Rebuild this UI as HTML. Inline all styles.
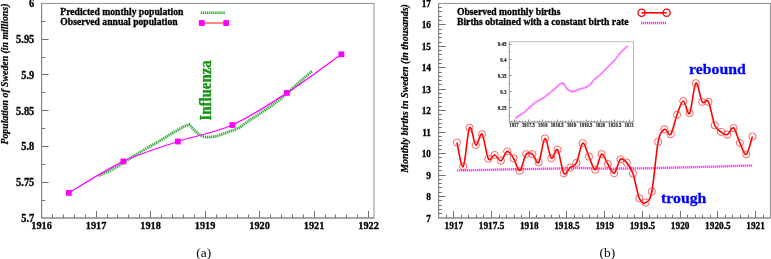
<!DOCTYPE html>
<html><head><meta charset="utf-8"><style>
html,body{margin:0;padding:0;background:#fff;width:771px;height:259px;overflow:hidden}
svg{display:block}
</style></head><body>
<svg width="771" height="259" viewBox="0 0 771 259">
<rect width="771" height="259" fill="#fff"/>
<rect x="41.6" y="3.4" width="332.40" height="214.60" fill="none" stroke="#8f8f8f" stroke-width="1"/>
<line x1="41.60" y1="200.50" x2="45.10" y2="200.50" stroke="#707070" stroke-width="1" />
<line x1="41.60" y1="182.50" x2="48.60" y2="182.50" stroke="#707070" stroke-width="1" />
<line x1="41.60" y1="164.50" x2="45.10" y2="164.50" stroke="#707070" stroke-width="1" />
<line x1="41.60" y1="146.50" x2="48.60" y2="146.50" stroke="#707070" stroke-width="1" />
<line x1="41.60" y1="128.50" x2="45.10" y2="128.50" stroke="#707070" stroke-width="1" />
<line x1="41.60" y1="110.50" x2="48.60" y2="110.50" stroke="#707070" stroke-width="1" />
<line x1="41.60" y1="92.50" x2="45.10" y2="92.50" stroke="#707070" stroke-width="1" />
<line x1="41.60" y1="74.50" x2="48.60" y2="74.50" stroke="#707070" stroke-width="1" />
<line x1="41.60" y1="57.50" x2="45.10" y2="57.50" stroke="#707070" stroke-width="1" />
<line x1="41.60" y1="39.50" x2="48.60" y2="39.50" stroke="#707070" stroke-width="1" />
<line x1="41.60" y1="21.50" x2="45.10" y2="21.50" stroke="#707070" stroke-width="1" />
<text transform="translate(34.30,221.90) scale(1,1.1)" font-size="10.4" text-anchor="end" style="font-family:'Liberation Serif','Times New Roman',serif;font-weight:bold;stroke:#000;stroke-width:0.3" >5.7</text>
<text transform="translate(34.30,186.13) scale(1,1.1)" font-size="10.4" text-anchor="end" style="font-family:'Liberation Serif','Times New Roman',serif;font-weight:bold;stroke:#000;stroke-width:0.3" >5.75</text>
<text transform="translate(34.30,150.36) scale(1,1.1)" font-size="10.4" text-anchor="end" style="font-family:'Liberation Serif','Times New Roman',serif;font-weight:bold;stroke:#000;stroke-width:0.3" >5.8</text>
<text transform="translate(34.30,114.59) scale(1,1.1)" font-size="10.4" text-anchor="end" style="font-family:'Liberation Serif','Times New Roman',serif;font-weight:bold;stroke:#000;stroke-width:0.3" >5.85</text>
<text transform="translate(34.30,78.82) scale(1,1.1)" font-size="10.4" text-anchor="end" style="font-family:'Liberation Serif','Times New Roman',serif;font-weight:bold;stroke:#000;stroke-width:0.3" >5.9</text>
<text transform="translate(34.30,43.05) scale(1,1.1)" font-size="10.4" text-anchor="end" style="font-family:'Liberation Serif','Times New Roman',serif;font-weight:bold;stroke:#000;stroke-width:0.3" >5.95</text>
<text transform="translate(34.30,7.28) scale(1,1.1)" font-size="10.4" text-anchor="end" style="font-family:'Liberation Serif','Times New Roman',serif;font-weight:bold;stroke:#000;stroke-width:0.3" >6</text>
<line x1="41.50" y1="218.00" x2="41.50" y2="211.00" stroke="#707070" stroke-width="1" />
<line x1="52.50" y1="218.00" x2="52.50" y2="214.50" stroke="#707070" stroke-width="1" />
<line x1="63.50" y1="218.00" x2="63.50" y2="214.50" stroke="#707070" stroke-width="1" />
<line x1="74.50" y1="218.00" x2="74.50" y2="214.50" stroke="#707070" stroke-width="1" />
<line x1="85.50" y1="218.00" x2="85.50" y2="214.50" stroke="#707070" stroke-width="1" />
<line x1="96.50" y1="218.00" x2="96.50" y2="211.00" stroke="#707070" stroke-width="1" />
<line x1="107.50" y1="218.00" x2="107.50" y2="214.50" stroke="#707070" stroke-width="1" />
<line x1="117.50" y1="218.00" x2="117.50" y2="214.50" stroke="#707070" stroke-width="1" />
<line x1="128.50" y1="218.00" x2="128.50" y2="214.50" stroke="#707070" stroke-width="1" />
<line x1="139.50" y1="218.00" x2="139.50" y2="214.50" stroke="#707070" stroke-width="1" />
<line x1="150.50" y1="218.00" x2="150.50" y2="211.00" stroke="#707070" stroke-width="1" />
<line x1="161.50" y1="218.00" x2="161.50" y2="214.50" stroke="#707070" stroke-width="1" />
<line x1="172.50" y1="218.00" x2="172.50" y2="214.50" stroke="#707070" stroke-width="1" />
<line x1="183.50" y1="218.00" x2="183.50" y2="214.50" stroke="#707070" stroke-width="1" />
<line x1="194.50" y1="218.00" x2="194.50" y2="214.50" stroke="#707070" stroke-width="1" />
<line x1="205.50" y1="218.00" x2="205.50" y2="211.00" stroke="#707070" stroke-width="1" />
<line x1="216.50" y1="218.00" x2="216.50" y2="214.50" stroke="#707070" stroke-width="1" />
<line x1="226.50" y1="218.00" x2="226.50" y2="214.50" stroke="#707070" stroke-width="1" />
<line x1="237.50" y1="218.00" x2="237.50" y2="214.50" stroke="#707070" stroke-width="1" />
<line x1="248.50" y1="218.00" x2="248.50" y2="214.50" stroke="#707070" stroke-width="1" />
<line x1="259.50" y1="218.00" x2="259.50" y2="211.00" stroke="#707070" stroke-width="1" />
<line x1="270.50" y1="218.00" x2="270.50" y2="214.50" stroke="#707070" stroke-width="1" />
<line x1="281.50" y1="218.00" x2="281.50" y2="214.50" stroke="#707070" stroke-width="1" />
<line x1="292.50" y1="218.00" x2="292.50" y2="214.50" stroke="#707070" stroke-width="1" />
<line x1="303.50" y1="218.00" x2="303.50" y2="214.50" stroke="#707070" stroke-width="1" />
<line x1="314.50" y1="218.00" x2="314.50" y2="211.00" stroke="#707070" stroke-width="1" />
<line x1="325.50" y1="218.00" x2="325.50" y2="214.50" stroke="#707070" stroke-width="1" />
<line x1="335.50" y1="218.00" x2="335.50" y2="214.50" stroke="#707070" stroke-width="1" />
<line x1="346.50" y1="218.00" x2="346.50" y2="214.50" stroke="#707070" stroke-width="1" />
<line x1="357.50" y1="218.00" x2="357.50" y2="214.50" stroke="#707070" stroke-width="1" />
<line x1="368.50" y1="218.00" x2="368.50" y2="211.00" stroke="#707070" stroke-width="1" />
<text transform="translate(41.60,229.20) scale(1,1.1)" font-size="10.3" text-anchor="middle" style="font-family:'Liberation Serif','Times New Roman',serif;font-weight:bold;stroke:#000;stroke-width:0.3" >1916</text>
<text transform="translate(96.10,229.20) scale(1,1.1)" font-size="10.3" text-anchor="middle" style="font-family:'Liberation Serif','Times New Roman',serif;font-weight:bold;stroke:#000;stroke-width:0.3" >1917</text>
<text transform="translate(150.60,229.20) scale(1,1.1)" font-size="10.3" text-anchor="middle" style="font-family:'Liberation Serif','Times New Roman',serif;font-weight:bold;stroke:#000;stroke-width:0.3" >1918</text>
<text transform="translate(205.10,229.20) scale(1,1.1)" font-size="10.3" text-anchor="middle" style="font-family:'Liberation Serif','Times New Roman',serif;font-weight:bold;stroke:#000;stroke-width:0.3" >1919</text>
<text transform="translate(259.60,229.20) scale(1,1.1)" font-size="10.3" text-anchor="middle" style="font-family:'Liberation Serif','Times New Roman',serif;font-weight:bold;stroke:#000;stroke-width:0.3" >1920</text>
<text transform="translate(314.10,229.20) scale(1,1.1)" font-size="10.3" text-anchor="middle" style="font-family:'Liberation Serif','Times New Roman',serif;font-weight:bold;stroke:#000;stroke-width:0.3" >1921</text>
<text transform="translate(368.60,229.20) scale(1,1.1)" font-size="10.3" text-anchor="middle" style="font-family:'Liberation Serif','Times New Roman',serif;font-weight:bold;stroke:#000;stroke-width:0.3" >1922</text>
<line x1="41.60" y1="3.40" x2="41.60" y2="218.00" stroke="#858585" stroke-width="1" />
<line x1="41.60" y1="218.00" x2="374.00" y2="218.00" stroke="#858585" stroke-width="1" />
<text transform="translate(8.0,144.6) rotate(-90)" font-size="9.8" style="font-family:'Liberation Serif','Times New Roman',serif;font-weight:bold;font-style:italic;stroke:#000;stroke-width:0.25">Population of Sweden (in millions)</text>
<polyline points="98.37,175.70 102.91,173.82 107.45,171.92 112.00,169.52 116.54,166.92 121.08,164.27 125.62,161.17 130.16,158.27 134.70,155.43 139.25,152.60 143.79,150.00 148.33,147.42 152.87,144.83 157.41,142.23 161.95,139.63 166.50,136.72 171.04,133.82 175.58,131.24 180.12,128.66 184.66,126.08 189.20,124.65 193.75,129.46 198.29,133.91 202.83,136.57 207.37,137.09 211.91,136.94 216.45,136.33 221.00,134.66 225.54,132.99 230.08,131.35 234.62,129.73 239.16,127.75 243.70,124.59 248.25,121.18 252.79,118.19 257.33,115.21 261.87,112.26 266.41,109.31 270.95,106.20 275.50,102.88 280.04,99.50 284.58,95.49 289.12,91.44 293.66,87.33 298.20,83.22 302.75,79.19 307.29,75.19 311.83,71.40" fill="none" stroke="#d0efd0" stroke-width="2.8"/>
<polyline points="98.37,175.70 102.91,173.82 107.45,171.92 112.00,169.52 116.54,166.92 121.08,164.27 125.62,161.17 130.16,158.27 134.70,155.43 139.25,152.60 143.79,150.00 148.33,147.42 152.87,144.83 157.41,142.23 161.95,139.63 166.50,136.72 171.04,133.82 175.58,131.24 180.12,128.66 184.66,126.08 189.20,124.65 193.75,129.46 198.29,133.91 202.83,136.57 207.37,137.09 211.91,136.94 216.45,136.33 221.00,134.66 225.54,132.99 230.08,131.35 234.62,129.73 239.16,127.75 243.70,124.59 248.25,121.18 252.79,118.19 257.33,115.21 261.87,112.26 266.41,109.31 270.95,106.20 275.50,102.88 280.04,99.50 284.58,95.49 289.12,91.44 293.66,87.33 298.20,83.22 302.75,79.19 307.29,75.19 311.83,71.40" fill="none" stroke="#2aa534" stroke-width="2.8" stroke-dasharray="1.04 1.04"/>
<path d="M68.85,192.85 C77.93,187.61 105.18,169.96 123.35,161.40 C141.52,152.84 159.68,147.57 177.85,141.50 C196.02,135.43 214.18,133.10 232.35,125.00 C250.52,116.90 268.68,104.68 286.85,92.90 C305.02,81.12 332.27,60.73 341.35,54.30" fill="none" stroke="#ff00ff" stroke-width="1.25"/>
<rect x="65.95" y="189.95" width="5.8" height="5.8" fill="#ff00ff"/>
<rect x="120.45" y="158.50" width="5.8" height="5.8" fill="#ff00ff"/>
<rect x="174.95" y="138.60" width="5.8" height="5.8" fill="#ff00ff"/>
<rect x="229.45" y="122.10" width="5.8" height="5.8" fill="#ff00ff"/>
<rect x="283.95" y="90.00" width="5.8" height="5.8" fill="#ff00ff"/>
<rect x="338.45" y="51.40" width="5.8" height="5.8" fill="#ff00ff"/>
<text transform="translate(60.30,14.90) scale(1,1.06)" font-size="9.65" text-anchor="start" style="font-family:'Liberation Serif','Times New Roman',serif;font-weight:bold;stroke:#000;stroke-width:0.3" >Predicted monthly population</text>
<text transform="translate(60.30,25.10) scale(1,1.06)" font-size="9.65" text-anchor="start" style="font-family:'Liberation Serif','Times New Roman',serif;font-weight:bold;stroke:#000;stroke-width:0.3" >Observed annual population</text>
<line x1="200.80" y1="12.80" x2="225.40" y2="12.80" stroke="#d0efd0" stroke-width="2.6" />
<line x1="200.80" y1="12.80" x2="225.40" y2="12.80" stroke="#2aa534" stroke-width="2.6" stroke-dasharray="1.04 1.04"/>
<line x1="201.80" y1="23.00" x2="226.20" y2="23.00" stroke="#ff5555" stroke-width="1.4" />
<rect x="198.9" y="20.1" width="5.8" height="5.8" fill="#ff00ff"/>
<rect x="223.3" y="20.1" width="5.8" height="5.8" fill="#ff00ff"/>
<text transform="translate(211.0,120.6) rotate(-90) scale(1,1.07)" font-size="14.9" fill="#139313" style="font-family:'Liberation Serif','Times New Roman',serif;font-weight:bold;stroke:#139313;stroke-width:0.3">Influenza</text>
<text x="203.8" y="256.6" font-size="13.4" text-anchor="middle" style="font-family:'Liberation Serif',serif">(a)</text>
<rect x="438.6" y="3.4" width="331.80" height="214.60" fill="none" stroke="#8f8f8f" stroke-width="1"/>
<line x1="438.60" y1="213.50" x2="441.80" y2="213.50" stroke="#707070" stroke-width="1" />
<line x1="438.60" y1="209.50" x2="441.80" y2="209.50" stroke="#707070" stroke-width="1" />
<line x1="438.60" y1="205.50" x2="441.80" y2="205.50" stroke="#707070" stroke-width="1" />
<line x1="438.60" y1="200.50" x2="441.80" y2="200.50" stroke="#707070" stroke-width="1" />
<line x1="438.60" y1="196.50" x2="445.60" y2="196.50" stroke="#707070" stroke-width="1" />
<line x1="438.60" y1="192.50" x2="441.80" y2="192.50" stroke="#707070" stroke-width="1" />
<line x1="438.60" y1="187.50" x2="441.80" y2="187.50" stroke="#707070" stroke-width="1" />
<line x1="438.60" y1="183.50" x2="441.80" y2="183.50" stroke="#707070" stroke-width="1" />
<line x1="438.60" y1="179.50" x2="441.80" y2="179.50" stroke="#707070" stroke-width="1" />
<line x1="438.60" y1="175.50" x2="445.60" y2="175.50" stroke="#707070" stroke-width="1" />
<line x1="438.60" y1="170.50" x2="441.80" y2="170.50" stroke="#707070" stroke-width="1" />
<line x1="438.60" y1="166.50" x2="441.80" y2="166.50" stroke="#707070" stroke-width="1" />
<line x1="438.60" y1="162.50" x2="441.80" y2="162.50" stroke="#707070" stroke-width="1" />
<line x1="438.60" y1="157.50" x2="441.80" y2="157.50" stroke="#707070" stroke-width="1" />
<line x1="438.60" y1="153.50" x2="445.60" y2="153.50" stroke="#707070" stroke-width="1" />
<line x1="438.60" y1="149.50" x2="441.80" y2="149.50" stroke="#707070" stroke-width="1" />
<line x1="438.60" y1="145.50" x2="441.80" y2="145.50" stroke="#707070" stroke-width="1" />
<line x1="438.60" y1="140.50" x2="441.80" y2="140.50" stroke="#707070" stroke-width="1" />
<line x1="438.60" y1="136.50" x2="441.80" y2="136.50" stroke="#707070" stroke-width="1" />
<line x1="438.60" y1="132.50" x2="445.60" y2="132.50" stroke="#707070" stroke-width="1" />
<line x1="438.60" y1="127.50" x2="441.80" y2="127.50" stroke="#707070" stroke-width="1" />
<line x1="438.60" y1="123.50" x2="441.80" y2="123.50" stroke="#707070" stroke-width="1" />
<line x1="438.60" y1="119.50" x2="441.80" y2="119.50" stroke="#707070" stroke-width="1" />
<line x1="438.60" y1="114.50" x2="441.80" y2="114.50" stroke="#707070" stroke-width="1" />
<line x1="438.60" y1="110.50" x2="445.60" y2="110.50" stroke="#707070" stroke-width="1" />
<line x1="438.60" y1="106.50" x2="441.80" y2="106.50" stroke="#707070" stroke-width="1" />
<line x1="438.60" y1="102.50" x2="441.80" y2="102.50" stroke="#707070" stroke-width="1" />
<line x1="438.60" y1="97.50" x2="441.80" y2="97.50" stroke="#707070" stroke-width="1" />
<line x1="438.60" y1="93.50" x2="441.80" y2="93.50" stroke="#707070" stroke-width="1" />
<line x1="438.60" y1="89.50" x2="445.60" y2="89.50" stroke="#707070" stroke-width="1" />
<line x1="438.60" y1="84.50" x2="441.80" y2="84.50" stroke="#707070" stroke-width="1" />
<line x1="438.60" y1="80.50" x2="441.80" y2="80.50" stroke="#707070" stroke-width="1" />
<line x1="438.60" y1="76.50" x2="441.80" y2="76.50" stroke="#707070" stroke-width="1" />
<line x1="438.60" y1="72.50" x2="441.80" y2="72.50" stroke="#707070" stroke-width="1" />
<line x1="438.60" y1="67.50" x2="445.60" y2="67.50" stroke="#707070" stroke-width="1" />
<line x1="438.60" y1="63.50" x2="441.80" y2="63.50" stroke="#707070" stroke-width="1" />
<line x1="438.60" y1="59.50" x2="441.80" y2="59.50" stroke="#707070" stroke-width="1" />
<line x1="438.60" y1="54.50" x2="441.80" y2="54.50" stroke="#707070" stroke-width="1" />
<line x1="438.60" y1="50.50" x2="441.80" y2="50.50" stroke="#707070" stroke-width="1" />
<line x1="438.60" y1="46.50" x2="445.60" y2="46.50" stroke="#707070" stroke-width="1" />
<line x1="438.60" y1="42.50" x2="441.80" y2="42.50" stroke="#707070" stroke-width="1" />
<line x1="438.60" y1="37.50" x2="441.80" y2="37.50" stroke="#707070" stroke-width="1" />
<line x1="438.60" y1="33.50" x2="441.80" y2="33.50" stroke="#707070" stroke-width="1" />
<line x1="438.60" y1="29.50" x2="441.80" y2="29.50" stroke="#707070" stroke-width="1" />
<line x1="438.60" y1="24.50" x2="445.60" y2="24.50" stroke="#707070" stroke-width="1" />
<line x1="438.60" y1="20.50" x2="441.80" y2="20.50" stroke="#707070" stroke-width="1" />
<line x1="438.60" y1="16.50" x2="441.80" y2="16.50" stroke="#707070" stroke-width="1" />
<line x1="438.60" y1="11.50" x2="441.80" y2="11.50" stroke="#707070" stroke-width="1" />
<line x1="438.60" y1="7.50" x2="441.80" y2="7.50" stroke="#707070" stroke-width="1" />
<text transform="translate(431.00,221.50) scale(1,1.1)" font-size="9.3" text-anchor="end" style="font-family:'Liberation Serif','Times New Roman',serif;font-weight:bold;stroke:#000;stroke-width:0.3" >7</text>
<text transform="translate(431.00,200.04) scale(1,1.1)" font-size="9.3" text-anchor="end" style="font-family:'Liberation Serif','Times New Roman',serif;font-weight:bold;stroke:#000;stroke-width:0.3" >8</text>
<text transform="translate(431.00,178.58) scale(1,1.1)" font-size="9.3" text-anchor="end" style="font-family:'Liberation Serif','Times New Roman',serif;font-weight:bold;stroke:#000;stroke-width:0.3" >9</text>
<text transform="translate(431.00,157.12) scale(1,1.1)" font-size="9.3" text-anchor="end" style="font-family:'Liberation Serif','Times New Roman',serif;font-weight:bold;stroke:#000;stroke-width:0.3" >10</text>
<text transform="translate(431.00,135.66) scale(1,1.1)" font-size="9.3" text-anchor="end" style="font-family:'Liberation Serif','Times New Roman',serif;font-weight:bold;stroke:#000;stroke-width:0.3" >11</text>
<text transform="translate(431.00,114.20) scale(1,1.1)" font-size="9.3" text-anchor="end" style="font-family:'Liberation Serif','Times New Roman',serif;font-weight:bold;stroke:#000;stroke-width:0.3" >12</text>
<text transform="translate(431.00,92.74) scale(1,1.1)" font-size="9.3" text-anchor="end" style="font-family:'Liberation Serif','Times New Roman',serif;font-weight:bold;stroke:#000;stroke-width:0.3" >13</text>
<text transform="translate(431.00,71.28) scale(1,1.1)" font-size="9.3" text-anchor="end" style="font-family:'Liberation Serif','Times New Roman',serif;font-weight:bold;stroke:#000;stroke-width:0.3" >14</text>
<text transform="translate(431.00,49.82) scale(1,1.1)" font-size="9.3" text-anchor="end" style="font-family:'Liberation Serif','Times New Roman',serif;font-weight:bold;stroke:#000;stroke-width:0.3" >15</text>
<text transform="translate(431.00,28.36) scale(1,1.1)" font-size="9.3" text-anchor="end" style="font-family:'Liberation Serif','Times New Roman',serif;font-weight:bold;stroke:#000;stroke-width:0.3" >16</text>
<text transform="translate(431.00,6.90) scale(1,1.1)" font-size="9.3" text-anchor="end" style="font-family:'Liberation Serif','Times New Roman',serif;font-weight:bold;stroke:#000;stroke-width:0.3" >17</text>
<line x1="446.50" y1="218.00" x2="446.50" y2="214.80" stroke="#707070" stroke-width="1" />
<line x1="453.50" y1="218.00" x2="453.50" y2="211.00" stroke="#707070" stroke-width="1" />
<line x1="461.50" y1="218.00" x2="461.50" y2="214.80" stroke="#707070" stroke-width="1" />
<line x1="468.50" y1="218.00" x2="468.50" y2="214.80" stroke="#707070" stroke-width="1" />
<line x1="476.50" y1="218.00" x2="476.50" y2="214.80" stroke="#707070" stroke-width="1" />
<line x1="483.50" y1="218.00" x2="483.50" y2="214.80" stroke="#707070" stroke-width="1" />
<line x1="491.50" y1="218.00" x2="491.50" y2="211.00" stroke="#707070" stroke-width="1" />
<line x1="499.50" y1="218.00" x2="499.50" y2="214.80" stroke="#707070" stroke-width="1" />
<line x1="506.50" y1="218.00" x2="506.50" y2="214.80" stroke="#707070" stroke-width="1" />
<line x1="514.50" y1="218.00" x2="514.50" y2="214.80" stroke="#707070" stroke-width="1" />
<line x1="521.50" y1="218.00" x2="521.50" y2="214.80" stroke="#707070" stroke-width="1" />
<line x1="529.50" y1="218.00" x2="529.50" y2="211.00" stroke="#707070" stroke-width="1" />
<line x1="536.50" y1="218.00" x2="536.50" y2="214.80" stroke="#707070" stroke-width="1" />
<line x1="544.50" y1="218.00" x2="544.50" y2="214.80" stroke="#707070" stroke-width="1" />
<line x1="551.50" y1="218.00" x2="551.50" y2="214.80" stroke="#707070" stroke-width="1" />
<line x1="559.50" y1="218.00" x2="559.50" y2="214.80" stroke="#707070" stroke-width="1" />
<line x1="566.50" y1="218.00" x2="566.50" y2="211.00" stroke="#707070" stroke-width="1" />
<line x1="574.50" y1="218.00" x2="574.50" y2="214.80" stroke="#707070" stroke-width="1" />
<line x1="582.50" y1="218.00" x2="582.50" y2="214.80" stroke="#707070" stroke-width="1" />
<line x1="589.50" y1="218.00" x2="589.50" y2="214.80" stroke="#707070" stroke-width="1" />
<line x1="597.50" y1="218.00" x2="597.50" y2="214.80" stroke="#707070" stroke-width="1" />
<line x1="604.50" y1="218.00" x2="604.50" y2="211.00" stroke="#707070" stroke-width="1" />
<line x1="612.50" y1="218.00" x2="612.50" y2="214.80" stroke="#707070" stroke-width="1" />
<line x1="619.50" y1="218.00" x2="619.50" y2="214.80" stroke="#707070" stroke-width="1" />
<line x1="627.50" y1="218.00" x2="627.50" y2="214.80" stroke="#707070" stroke-width="1" />
<line x1="634.50" y1="218.00" x2="634.50" y2="214.80" stroke="#707070" stroke-width="1" />
<line x1="642.50" y1="218.00" x2="642.50" y2="211.00" stroke="#707070" stroke-width="1" />
<line x1="649.50" y1="218.00" x2="649.50" y2="214.80" stroke="#707070" stroke-width="1" />
<line x1="657.50" y1="218.00" x2="657.50" y2="214.80" stroke="#707070" stroke-width="1" />
<line x1="665.50" y1="218.00" x2="665.50" y2="214.80" stroke="#707070" stroke-width="1" />
<line x1="672.50" y1="218.00" x2="672.50" y2="214.80" stroke="#707070" stroke-width="1" />
<line x1="680.50" y1="218.00" x2="680.50" y2="211.00" stroke="#707070" stroke-width="1" />
<line x1="687.50" y1="218.00" x2="687.50" y2="214.80" stroke="#707070" stroke-width="1" />
<line x1="695.50" y1="218.00" x2="695.50" y2="214.80" stroke="#707070" stroke-width="1" />
<line x1="702.50" y1="218.00" x2="702.50" y2="214.80" stroke="#707070" stroke-width="1" />
<line x1="710.50" y1="218.00" x2="710.50" y2="214.80" stroke="#707070" stroke-width="1" />
<line x1="717.50" y1="218.00" x2="717.50" y2="211.00" stroke="#707070" stroke-width="1" />
<line x1="725.50" y1="218.00" x2="725.50" y2="214.80" stroke="#707070" stroke-width="1" />
<line x1="732.50" y1="218.00" x2="732.50" y2="214.80" stroke="#707070" stroke-width="1" />
<line x1="740.50" y1="218.00" x2="740.50" y2="214.80" stroke="#707070" stroke-width="1" />
<line x1="748.50" y1="218.00" x2="748.50" y2="214.80" stroke="#707070" stroke-width="1" />
<line x1="755.50" y1="218.00" x2="755.50" y2="211.00" stroke="#707070" stroke-width="1" />
<line x1="763.50" y1="218.00" x2="763.50" y2="214.80" stroke="#707070" stroke-width="1" />
<text transform="translate(453.80,229.40) scale(1,1.1)" font-size="9.3" text-anchor="middle" style="font-family:'Liberation Serif','Times New Roman',serif;font-weight:bold;stroke:#000;stroke-width:0.3" >1917</text>
<text transform="translate(491.53,229.40) scale(1,1.1)" font-size="9.3" text-anchor="middle" style="font-family:'Liberation Serif','Times New Roman',serif;font-weight:bold;stroke:#000;stroke-width:0.3" >1917.5</text>
<text transform="translate(529.25,229.40) scale(1,1.1)" font-size="9.3" text-anchor="middle" style="font-family:'Liberation Serif','Times New Roman',serif;font-weight:bold;stroke:#000;stroke-width:0.3" >1918</text>
<text transform="translate(566.98,229.40) scale(1,1.1)" font-size="9.3" text-anchor="middle" style="font-family:'Liberation Serif','Times New Roman',serif;font-weight:bold;stroke:#000;stroke-width:0.3" >1918.5</text>
<text transform="translate(604.70,229.40) scale(1,1.1)" font-size="9.3" text-anchor="middle" style="font-family:'Liberation Serif','Times New Roman',serif;font-weight:bold;stroke:#000;stroke-width:0.3" >1919</text>
<text transform="translate(642.42,229.40) scale(1,1.1)" font-size="9.3" text-anchor="middle" style="font-family:'Liberation Serif','Times New Roman',serif;font-weight:bold;stroke:#000;stroke-width:0.3" >1919.5</text>
<text transform="translate(680.15,229.40) scale(1,1.1)" font-size="9.3" text-anchor="middle" style="font-family:'Liberation Serif','Times New Roman',serif;font-weight:bold;stroke:#000;stroke-width:0.3" >1920</text>
<text transform="translate(717.88,229.40) scale(1,1.1)" font-size="9.3" text-anchor="middle" style="font-family:'Liberation Serif','Times New Roman',serif;font-weight:bold;stroke:#000;stroke-width:0.3" >1920.5</text>
<text transform="translate(755.60,229.40) scale(1,1.1)" font-size="9.3" text-anchor="middle" style="font-family:'Liberation Serif','Times New Roman',serif;font-weight:bold;stroke:#000;stroke-width:0.3" >1921</text>
<line x1="438.60" y1="3.40" x2="438.60" y2="218.00" stroke="#858585" stroke-width="1" />
<line x1="438.60" y1="218.00" x2="770.40" y2="218.00" stroke="#858585" stroke-width="1" />
<text transform="translate(407.8,172.8) rotate(-90)" font-size="10.0" style="font-family:'Liberation Serif','Times New Roman',serif;font-weight:bold;font-style:italic;stroke:#000;stroke-width:0.25">Monthly births in Sweden (in thousands)</text>
<polyline points="456.94,170.43 463.23,170.33 469.52,170.22 475.81,170.12 482.09,170.01 488.38,169.86 494.67,169.71 500.96,169.56 507.24,169.41 513.53,169.30 519.82,169.21 526.11,169.12 532.39,169.03 538.68,168.90 544.97,168.78 551.26,168.65 557.54,168.51 563.83,168.37 570.12,168.22 576.41,168.08 582.69,168.06 588.98,168.29 595.27,168.52 601.56,168.59 607.84,168.66 614.13,168.59 620.42,168.52 626.71,168.45 632.99,168.42 639.28,168.38 645.57,168.30 651.86,168.20 658.14,168.01 664.43,167.82 670.72,167.68 677.01,167.55 683.29,167.40 689.58,167.24 695.87,167.08 702.16,166.91 708.44,166.75 714.73,166.59 721.02,166.40 727.31,166.18 733.59,165.97 739.88,165.81 746.17,165.67 752.46,165.55" fill="none" stroke="#ffc8ff" stroke-width="2.4"/>
<polyline points="456.94,170.43 463.23,170.33 469.52,170.22 475.81,170.12 482.09,170.01 488.38,169.86 494.67,169.71 500.96,169.56 507.24,169.41 513.53,169.30 519.82,169.21 526.11,169.12 532.39,169.03 538.68,168.90 544.97,168.78 551.26,168.65 557.54,168.51 563.83,168.37 570.12,168.22 576.41,168.08 582.69,168.06 588.98,168.29 595.27,168.52 601.56,168.59 607.84,168.66 614.13,168.59 620.42,168.52 626.71,168.45 632.99,168.42 639.28,168.38 645.57,168.30 651.86,168.20 658.14,168.01 664.43,167.82 670.72,167.68 677.01,167.55 683.29,167.40 689.58,167.24 695.87,167.08 702.16,166.91 708.44,166.75 714.73,166.59 721.02,166.40 727.31,166.18 733.59,165.97 739.88,165.81 746.17,165.67 752.46,165.55" fill="none" stroke="#ff20ff" stroke-width="2.4" stroke-dasharray="0.9 1.1"/>
<path d="M456.94,142.50 C457.99,146.48 461.14,168.85 463.23,166.40 C465.33,163.95 467.42,131.37 469.52,127.80 C471.61,124.23 473.71,143.93 475.81,145.00 C477.90,146.07 480.00,131.90 482.09,134.20 C484.19,136.50 486.29,155.33 488.38,158.80 C490.48,162.27 492.57,154.68 494.67,155.00 C496.76,155.32 498.86,161.30 500.96,160.70 C503.05,160.10 505.15,151.80 507.24,151.40 C509.34,151.00 511.44,155.10 513.53,158.30 C515.63,161.50 517.72,171.28 519.82,170.60 C521.91,169.92 524.01,156.93 526.11,154.20 C528.20,151.47 530.30,152.83 532.39,154.20 C534.49,155.57 536.59,165.02 538.68,162.40 C540.78,159.78 542.87,139.20 544.97,138.50 C547.06,137.80 549.16,156.33 551.26,158.20 C553.35,160.07 555.45,147.18 557.54,149.70 C559.64,152.22 561.74,170.33 563.83,173.30 C565.93,176.27 568.02,169.23 570.12,167.50 C572.21,165.77 574.31,166.95 576.41,162.90 C578.50,158.85 580.60,144.25 582.69,143.20 C584.79,142.15 586.89,152.17 588.98,156.60 C591.08,161.03 593.17,170.20 595.27,169.80 C597.36,169.40 599.46,155.17 601.56,154.20 C603.65,153.23 605.75,160.83 607.84,164.00 C609.94,167.17 612.04,173.98 614.13,173.20 C616.23,172.42 618.32,161.07 620.42,159.30 C622.51,157.53 624.61,160.23 626.71,162.60 C628.80,164.97 630.90,167.55 632.99,173.50 C635.09,179.45 637.19,193.45 639.28,198.30 C641.38,203.15 643.47,203.73 645.57,202.60 C647.66,201.47 649.76,201.63 651.86,191.50 C653.95,181.37 656.05,152.17 658.14,141.80 C660.24,131.43 662.34,130.55 664.43,129.30 C666.53,128.05 668.62,136.72 670.72,134.30 C672.81,131.88 674.91,120.35 677.01,114.80 C679.10,109.25 681.20,101.27 683.29,101.00 C685.39,100.73 687.49,116.17 689.58,113.20 C691.68,110.23 693.77,85.10 695.87,83.20 C697.96,81.30 700.06,98.70 702.16,101.80 C704.25,104.90 706.35,97.88 708.44,101.80 C710.54,105.72 712.64,120.28 714.73,125.30 C716.83,130.32 718.92,130.35 721.02,131.90 C723.11,133.45 725.21,135.25 727.31,134.60 C729.40,133.95 731.50,126.62 733.59,128.00 C735.69,129.38 737.79,138.50 739.88,142.90 C741.98,147.30 744.07,155.47 746.17,154.40 C748.26,153.33 751.41,139.48 752.46,136.50" fill="none" stroke="#ff0000" stroke-width="1.6"/>
<circle cx="456.94" cy="142.50" r="3.6" fill="none" stroke="#ff3030" stroke-width="0.75"/>
<circle cx="463.23" cy="166.40" r="3.6" fill="none" stroke="#ff3030" stroke-width="0.75"/>
<circle cx="469.52" cy="127.80" r="3.6" fill="none" stroke="#ff3030" stroke-width="0.75"/>
<circle cx="475.81" cy="145.00" r="3.6" fill="none" stroke="#ff3030" stroke-width="0.75"/>
<circle cx="482.09" cy="134.20" r="3.6" fill="none" stroke="#ff3030" stroke-width="0.75"/>
<circle cx="488.38" cy="158.80" r="3.6" fill="none" stroke="#ff3030" stroke-width="0.75"/>
<circle cx="494.67" cy="155.00" r="3.6" fill="none" stroke="#ff3030" stroke-width="0.75"/>
<circle cx="500.96" cy="160.70" r="3.6" fill="none" stroke="#ff3030" stroke-width="0.75"/>
<circle cx="507.24" cy="151.40" r="3.6" fill="none" stroke="#ff3030" stroke-width="0.75"/>
<circle cx="513.53" cy="158.30" r="3.6" fill="none" stroke="#ff3030" stroke-width="0.75"/>
<circle cx="519.82" cy="170.60" r="3.6" fill="none" stroke="#ff3030" stroke-width="0.75"/>
<circle cx="526.11" cy="154.20" r="3.6" fill="none" stroke="#ff3030" stroke-width="0.75"/>
<circle cx="532.39" cy="154.20" r="3.6" fill="none" stroke="#ff3030" stroke-width="0.75"/>
<circle cx="538.68" cy="162.40" r="3.6" fill="none" stroke="#ff3030" stroke-width="0.75"/>
<circle cx="544.97" cy="138.50" r="3.6" fill="none" stroke="#ff3030" stroke-width="0.75"/>
<circle cx="551.26" cy="158.20" r="3.6" fill="none" stroke="#ff3030" stroke-width="0.75"/>
<circle cx="557.54" cy="149.70" r="3.6" fill="none" stroke="#ff3030" stroke-width="0.75"/>
<circle cx="563.83" cy="173.30" r="3.6" fill="none" stroke="#ff3030" stroke-width="0.75"/>
<circle cx="570.12" cy="167.50" r="3.6" fill="none" stroke="#ff3030" stroke-width="0.75"/>
<circle cx="576.41" cy="162.90" r="3.6" fill="none" stroke="#ff3030" stroke-width="0.75"/>
<circle cx="582.69" cy="143.20" r="3.6" fill="none" stroke="#ff3030" stroke-width="0.75"/>
<circle cx="588.98" cy="156.60" r="3.6" fill="none" stroke="#ff3030" stroke-width="0.75"/>
<circle cx="595.27" cy="169.80" r="3.6" fill="none" stroke="#ff3030" stroke-width="0.75"/>
<circle cx="601.56" cy="154.20" r="3.6" fill="none" stroke="#ff3030" stroke-width="0.75"/>
<circle cx="607.84" cy="164.00" r="3.6" fill="none" stroke="#ff3030" stroke-width="0.75"/>
<circle cx="614.13" cy="173.20" r="3.6" fill="none" stroke="#ff3030" stroke-width="0.75"/>
<circle cx="620.42" cy="159.30" r="3.6" fill="none" stroke="#ff3030" stroke-width="0.75"/>
<circle cx="626.71" cy="162.60" r="3.6" fill="none" stroke="#ff3030" stroke-width="0.75"/>
<circle cx="632.99" cy="173.50" r="3.6" fill="none" stroke="#ff3030" stroke-width="0.75"/>
<circle cx="639.28" cy="198.30" r="3.6" fill="none" stroke="#ff3030" stroke-width="0.75"/>
<circle cx="645.57" cy="202.60" r="3.6" fill="none" stroke="#ff3030" stroke-width="0.75"/>
<circle cx="651.86" cy="191.50" r="3.6" fill="none" stroke="#ff3030" stroke-width="0.75"/>
<circle cx="658.14" cy="141.80" r="3.6" fill="none" stroke="#ff3030" stroke-width="0.75"/>
<circle cx="664.43" cy="129.30" r="3.6" fill="none" stroke="#ff3030" stroke-width="0.75"/>
<circle cx="670.72" cy="134.30" r="3.6" fill="none" stroke="#ff3030" stroke-width="0.75"/>
<circle cx="677.01" cy="114.80" r="3.6" fill="none" stroke="#ff3030" stroke-width="0.75"/>
<circle cx="683.29" cy="101.00" r="3.6" fill="none" stroke="#ff3030" stroke-width="0.75"/>
<circle cx="689.58" cy="113.20" r="3.6" fill="none" stroke="#ff3030" stroke-width="0.75"/>
<circle cx="695.87" cy="83.20" r="3.6" fill="none" stroke="#ff3030" stroke-width="0.75"/>
<circle cx="702.16" cy="101.80" r="3.6" fill="none" stroke="#ff3030" stroke-width="0.75"/>
<circle cx="708.44" cy="101.80" r="3.6" fill="none" stroke="#ff3030" stroke-width="0.75"/>
<circle cx="714.73" cy="125.30" r="3.6" fill="none" stroke="#ff3030" stroke-width="0.75"/>
<circle cx="721.02" cy="131.90" r="3.6" fill="none" stroke="#ff3030" stroke-width="0.75"/>
<circle cx="727.31" cy="134.60" r="3.6" fill="none" stroke="#ff3030" stroke-width="0.75"/>
<circle cx="733.59" cy="128.00" r="3.6" fill="none" stroke="#ff3030" stroke-width="0.75"/>
<circle cx="739.88" cy="142.90" r="3.6" fill="none" stroke="#ff3030" stroke-width="0.75"/>
<circle cx="746.17" cy="154.40" r="3.6" fill="none" stroke="#ff3030" stroke-width="0.75"/>
<circle cx="752.46" cy="136.50" r="3.6" fill="none" stroke="#ff3030" stroke-width="0.75"/>
<text transform="translate(457.00,14.90) scale(1,1.06)" font-size="9.65" text-anchor="start" style="font-family:'Liberation Serif','Times New Roman',serif;font-weight:bold;stroke:#000;stroke-width:0.3" >Observed monthly births</text>
<text transform="translate(457.00,25.10) scale(1,1.06)" font-size="9.65" text-anchor="start" style="font-family:'Liberation Serif','Times New Roman',serif;font-weight:bold;stroke:#000;stroke-width:0.3" >Births obtained with a constant birth rate</text>
<line x1="641.60" y1="12.80" x2="666.60" y2="12.80" stroke="#ff0000" stroke-width="1.6" />
<circle cx="641.6" cy="12.8" r="3.6" fill="none" stroke="#ff0000" stroke-width="1.3"/>
<circle cx="666.6" cy="12.8" r="3.6" fill="none" stroke="#ff0000" stroke-width="1.3"/>
<line x1="641.10" y1="23.00" x2="666.00" y2="23.00" stroke="#ffc8ff" stroke-width="2.4" />
<line x1="641.10" y1="23.00" x2="666.00" y2="23.00" stroke="#ff20ff" stroke-width="2.4" stroke-dasharray="0.9 1.1"/>
<text transform="translate(689,73.8) scale(1,0.92)" font-size="15.8" fill="#0000ff" style="font-family:'Liberation Serif','Times New Roman',serif;font-weight:bold;stroke:#0000ff;stroke-width:0.3">rebound</text>
<text transform="translate(661,202.6) scale(1,0.92)" font-size="15.8" fill="#0000ff" style="font-family:'Liberation Serif','Times New Roman',serif;font-weight:bold;stroke:#0000ff;stroke-width:0.3">trough</text>
<text x="607.3" y="256.6" font-size="13.4" text-anchor="middle" style="font-family:'Liberation Serif',serif">(b)</text>
<rect x="509.3" y="41.8" width="124.20" height="80.30" fill="#fff" stroke="#aaa" stroke-width="0.8"/>
<line x1="509.30" y1="115.50" x2="510.60" y2="115.50" stroke="#8a8a8a" stroke-width="1" />
<line x1="509.30" y1="107.50" x2="511.60" y2="107.50" stroke="#8a8a8a" stroke-width="1" />
<line x1="509.30" y1="99.50" x2="510.60" y2="99.50" stroke="#8a8a8a" stroke-width="1" />
<line x1="509.30" y1="91.50" x2="511.60" y2="91.50" stroke="#8a8a8a" stroke-width="1" />
<line x1="509.30" y1="83.50" x2="510.60" y2="83.50" stroke="#8a8a8a" stroke-width="1" />
<line x1="509.30" y1="75.50" x2="511.60" y2="75.50" stroke="#8a8a8a" stroke-width="1" />
<line x1="509.30" y1="67.50" x2="510.60" y2="67.50" stroke="#8a8a8a" stroke-width="1" />
<line x1="509.30" y1="59.50" x2="511.60" y2="59.50" stroke="#8a8a8a" stroke-width="1" />
<line x1="509.30" y1="51.50" x2="510.60" y2="51.50" stroke="#8a8a8a" stroke-width="1" />
<line x1="509.30" y1="44.50" x2="511.60" y2="44.50" stroke="#8a8a8a" stroke-width="1" />
<text transform="translate(506.60,109.90) scale(1,1.2)" font-size="5.1" text-anchor="end" style="font-family:'Liberation Serif','Times New Roman',serif;font-weight:bold;stroke:#000;stroke-width:0.12" fill="#222">9.25</text>
<text transform="translate(506.60,94.00) scale(1,1.2)" font-size="5.1" text-anchor="end" style="font-family:'Liberation Serif','Times New Roman',serif;font-weight:bold;stroke:#000;stroke-width:0.12" fill="#222">9.3</text>
<text transform="translate(506.60,78.10) scale(1,1.2)" font-size="5.1" text-anchor="end" style="font-family:'Liberation Serif','Times New Roman',serif;font-weight:bold;stroke:#000;stroke-width:0.12" fill="#222">9.35</text>
<text transform="translate(506.60,62.20) scale(1,1.2)" font-size="5.1" text-anchor="end" style="font-family:'Liberation Serif','Times New Roman',serif;font-weight:bold;stroke:#000;stroke-width:0.12" fill="#222">9.4</text>
<text transform="translate(506.60,46.30) scale(1,1.2)" font-size="5.1" text-anchor="end" style="font-family:'Liberation Serif','Times New Roman',serif;font-weight:bold;stroke:#000;stroke-width:0.12" fill="#222">9.45</text>
<line x1="511.50" y1="122.10" x2="511.50" y2="120.70" stroke="#8a8a8a" stroke-width="1" />
<line x1="514.50" y1="122.10" x2="514.50" y2="119.50" stroke="#8a8a8a" stroke-width="1" />
<line x1="516.50" y1="122.10" x2="516.50" y2="120.70" stroke="#8a8a8a" stroke-width="1" />
<line x1="519.50" y1="122.10" x2="519.50" y2="120.70" stroke="#8a8a8a" stroke-width="1" />
<line x1="522.50" y1="122.10" x2="522.50" y2="120.70" stroke="#8a8a8a" stroke-width="1" />
<line x1="525.50" y1="122.10" x2="525.50" y2="120.70" stroke="#8a8a8a" stroke-width="1" />
<line x1="528.50" y1="122.10" x2="528.50" y2="119.50" stroke="#8a8a8a" stroke-width="1" />
<line x1="531.50" y1="122.10" x2="531.50" y2="120.70" stroke="#8a8a8a" stroke-width="1" />
<line x1="534.50" y1="122.10" x2="534.50" y2="120.70" stroke="#8a8a8a" stroke-width="1" />
<line x1="537.50" y1="122.10" x2="537.50" y2="120.70" stroke="#8a8a8a" stroke-width="1" />
<line x1="539.50" y1="122.10" x2="539.50" y2="120.70" stroke="#8a8a8a" stroke-width="1" />
<line x1="542.50" y1="122.10" x2="542.50" y2="119.50" stroke="#8a8a8a" stroke-width="1" />
<line x1="545.50" y1="122.10" x2="545.50" y2="120.70" stroke="#8a8a8a" stroke-width="1" />
<line x1="548.50" y1="122.10" x2="548.50" y2="120.70" stroke="#8a8a8a" stroke-width="1" />
<line x1="551.50" y1="122.10" x2="551.50" y2="120.70" stroke="#8a8a8a" stroke-width="1" />
<line x1="554.50" y1="122.10" x2="554.50" y2="120.70" stroke="#8a8a8a" stroke-width="1" />
<line x1="557.50" y1="122.10" x2="557.50" y2="119.50" stroke="#8a8a8a" stroke-width="1" />
<line x1="560.50" y1="122.10" x2="560.50" y2="120.70" stroke="#8a8a8a" stroke-width="1" />
<line x1="562.50" y1="122.10" x2="562.50" y2="120.70" stroke="#8a8a8a" stroke-width="1" />
<line x1="565.50" y1="122.10" x2="565.50" y2="120.70" stroke="#8a8a8a" stroke-width="1" />
<line x1="568.50" y1="122.10" x2="568.50" y2="120.70" stroke="#8a8a8a" stroke-width="1" />
<line x1="571.50" y1="122.10" x2="571.50" y2="119.50" stroke="#8a8a8a" stroke-width="1" />
<line x1="574.50" y1="122.10" x2="574.50" y2="120.70" stroke="#8a8a8a" stroke-width="1" />
<line x1="577.50" y1="122.10" x2="577.50" y2="120.70" stroke="#8a8a8a" stroke-width="1" />
<line x1="580.50" y1="122.10" x2="580.50" y2="120.70" stroke="#8a8a8a" stroke-width="1" />
<line x1="583.50" y1="122.10" x2="583.50" y2="120.70" stroke="#8a8a8a" stroke-width="1" />
<line x1="586.50" y1="122.10" x2="586.50" y2="119.50" stroke="#8a8a8a" stroke-width="1" />
<line x1="588.50" y1="122.10" x2="588.50" y2="120.70" stroke="#8a8a8a" stroke-width="1" />
<line x1="591.50" y1="122.10" x2="591.50" y2="120.70" stroke="#8a8a8a" stroke-width="1" />
<line x1="594.50" y1="122.10" x2="594.50" y2="120.70" stroke="#8a8a8a" stroke-width="1" />
<line x1="597.50" y1="122.10" x2="597.50" y2="120.70" stroke="#8a8a8a" stroke-width="1" />
<line x1="600.50" y1="122.10" x2="600.50" y2="119.50" stroke="#8a8a8a" stroke-width="1" />
<line x1="603.50" y1="122.10" x2="603.50" y2="120.70" stroke="#8a8a8a" stroke-width="1" />
<line x1="606.50" y1="122.10" x2="606.50" y2="120.70" stroke="#8a8a8a" stroke-width="1" />
<line x1="609.50" y1="122.10" x2="609.50" y2="120.70" stroke="#8a8a8a" stroke-width="1" />
<line x1="611.50" y1="122.10" x2="611.50" y2="120.70" stroke="#8a8a8a" stroke-width="1" />
<line x1="614.50" y1="122.10" x2="614.50" y2="119.50" stroke="#8a8a8a" stroke-width="1" />
<line x1="617.50" y1="122.10" x2="617.50" y2="120.70" stroke="#8a8a8a" stroke-width="1" />
<line x1="620.50" y1="122.10" x2="620.50" y2="120.70" stroke="#8a8a8a" stroke-width="1" />
<line x1="623.50" y1="122.10" x2="623.50" y2="120.70" stroke="#8a8a8a" stroke-width="1" />
<line x1="626.50" y1="122.10" x2="626.50" y2="120.70" stroke="#8a8a8a" stroke-width="1" />
<line x1="629.50" y1="122.10" x2="629.50" y2="119.50" stroke="#8a8a8a" stroke-width="1" />
<line x1="632.50" y1="122.10" x2="632.50" y2="120.70" stroke="#8a8a8a" stroke-width="1" />
<text transform="translate(514.00,127.00) scale(1,1.15)" font-size="4.7" text-anchor="middle" style="font-family:'Liberation Serif','Times New Roman',serif;font-weight:bold;stroke:#000;stroke-width:0.12" fill="#222">1917</text>
<text transform="translate(528.40,127.00) scale(1,1.15)" font-size="4.7" text-anchor="middle" style="font-family:'Liberation Serif','Times New Roman',serif;font-weight:bold;stroke:#000;stroke-width:0.12" fill="#222">1917.5</text>
<text transform="translate(542.80,127.00) scale(1,1.15)" font-size="4.7" text-anchor="middle" style="font-family:'Liberation Serif','Times New Roman',serif;font-weight:bold;stroke:#000;stroke-width:0.12" fill="#222">1918</text>
<text transform="translate(557.20,127.00) scale(1,1.15)" font-size="4.7" text-anchor="middle" style="font-family:'Liberation Serif','Times New Roman',serif;font-weight:bold;stroke:#000;stroke-width:0.12" fill="#222">1918.5</text>
<text transform="translate(571.60,127.00) scale(1,1.15)" font-size="4.7" text-anchor="middle" style="font-family:'Liberation Serif','Times New Roman',serif;font-weight:bold;stroke:#000;stroke-width:0.12" fill="#222">1919</text>
<text transform="translate(586.00,127.00) scale(1,1.15)" font-size="4.7" text-anchor="middle" style="font-family:'Liberation Serif','Times New Roman',serif;font-weight:bold;stroke:#000;stroke-width:0.12" fill="#222">1919.5</text>
<text transform="translate(600.40,127.00) scale(1,1.15)" font-size="4.7" text-anchor="middle" style="font-family:'Liberation Serif','Times New Roman',serif;font-weight:bold;stroke:#000;stroke-width:0.12" fill="#222">1920</text>
<text transform="translate(614.80,127.00) scale(1,1.15)" font-size="4.7" text-anchor="middle" style="font-family:'Liberation Serif','Times New Roman',serif;font-weight:bold;stroke:#000;stroke-width:0.12" fill="#222">1920.5</text>
<text transform="translate(629.20,127.00) scale(1,1.15)" font-size="4.7" text-anchor="middle" style="font-family:'Liberation Serif','Times New Roman',serif;font-weight:bold;stroke:#000;stroke-width:0.12" fill="#222">1921</text>
<line x1="509.30" y1="41.80" x2="509.30" y2="122.10" stroke="#999" stroke-width="0.8" />
<line x1="509.30" y1="122.10" x2="633.50" y2="122.10" stroke="#999" stroke-width="0.8" />
<polyline points="515.20,118.20 517.60,116.65 520.00,115.10 522.40,113.55 524.80,111.92 527.20,109.72 529.60,107.52 532.00,105.32 534.40,103.12 536.80,101.43 539.20,100.11 541.60,98.80 544.00,97.39 546.40,95.56 548.80,93.73 551.20,91.85 553.60,89.74 556.00,87.63 558.40,85.52 560.80,83.41 563.20,83.13 565.60,86.51 568.00,89.90 570.40,90.90 572.80,91.90 575.20,90.88 577.60,89.85 580.00,88.91 582.40,88.38 584.80,87.84 587.20,86.65 589.60,85.13 592.00,82.33 594.40,79.53 596.80,77.52 599.20,75.57 601.60,73.30 604.00,70.90 606.40,68.50 608.80,66.10 611.20,63.70 613.60,61.30 616.00,58.47 618.40,55.29 620.80,52.10 623.20,49.80 625.60,47.62 628.00,45.90" fill="none" stroke="#ff77ff" stroke-width="1.75" stroke-linejoin="round"/>
</svg>
</body></html>
